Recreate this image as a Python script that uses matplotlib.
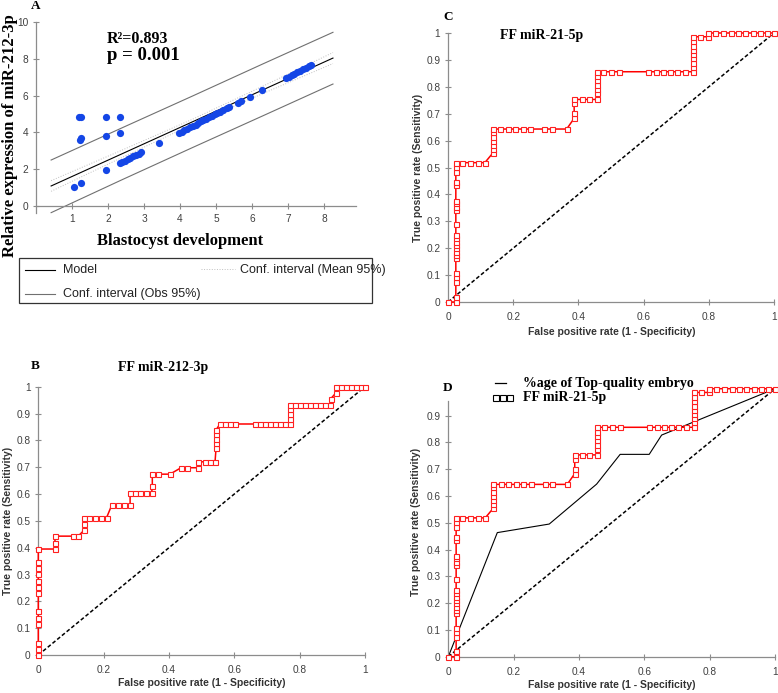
import numpy as np
import matplotlib
matplotlib.use("Agg")
import matplotlib.pyplot as plt
from matplotlib.lines import Line2D
from matplotlib.patches import Rectangle

plt.rcParams['font.family'] = ['Liberation Sans', 'DejaVu Sans']

# ---- data ----
# A: blastocyst development vs relative expression of miR-212-3p
blast_x = [1.2, 1.25, 1.22, 1.25, 1.95, 1.95, 2.32, 2.32, 1.95, 1.05, 1.25,
           2.33, 2.4, 2.47, 2.55, 2.62, 2.7, 2.78, 2.85, 2.93, 3.42,
           3.97, 4.05, 4.12, 4.2, 4.28, 4.35, 4.44,
           4.5, 4.58, 4.65, 4.72, 4.8, 4.88, 4.96, 5.03,
           5.1, 5.2, 5.3, 5.36, 5.6, 5.7, 5.94, 6.28,
           6.95, 7.03, 7.1, 7.18, 7.26, 7.34, 7.42, 7.5, 7.58, 7.64]
expr_y = [4.83, 4.84, 3.6, 3.68, 4.84, 3.78, 4.86, 3.97, 1.96, 1.03, 1.25,
          2.35, 2.4, 2.47, 2.55, 2.6, 2.7, 2.78, 2.85, 2.93, 3.44,
          3.98, 4.05, 4.12, 4.2, 4.27, 4.35, 4.42,
          4.52, 4.6, 4.67, 4.74, 4.82, 4.9, 4.98, 5.05,
          5.1, 5.2, 5.3, 5.38, 5.6, 5.72, 5.93, 6.3,
          6.95, 7.03, 7.1, 7.18, 7.26, 7.34, 7.42, 7.5, 7.6, 7.66]
fit_x = [0.42, 2.38, 4.34, 6.3, 8.25]
model_y = [1.09, 2.83, 4.57, 6.31, 8.04]
mean_lo = [0.80, 2.63, 4.43, 6.11, 7.74]
mean_hi = [1.38, 3.03, 4.71, 6.51, 8.34]
obs_lo = [-0.36, 1.42, 3.17, 4.90, 6.63]
obs_hi = [2.50, 4.24, 5.97, 7.72, 9.44]

# B: FF miR-212-3p ROC
fpr212 = [0, 0, 0, 0, 0, 0, 0, 0, 0, 0, 0, 0, 0,
          0.051, 0.051, 0.051, 0.105, 0.122,
          0.14, 0.14, 0.14, 0.156, 0.173, 0.192, 0.209,
          0.225, 0.245, 0.262, 0.281,
          0.281, 0.296, 0.311, 0.329, 0.347,
          0.349, 0.349, 0.367, 0.403,
          0.437, 0.454, 0.49, 0.49, 0.51, 0.526, 0.541,
          0.544, 0.544, 0.544, 0.544, 0.544,
          0.556, 0.571, 0.587, 0.602, 0.663, 0.679, 0.694, 0.709, 0.724, 0.74, 0.755, 0.771,
          0.771, 0.771, 0.771, 0.771, 0.785, 0.8, 0.816, 0.831, 0.847, 0.862, 0.877, 0.893,
          0.895, 0.911, 0.911, 0.926, 0.941, 0.957, 0.972, 0.987, 1.0]
tpr212 = [0, 0.021, 0.046, 0.116, 0.137, 0.164, 0.232, 0.254, 0.277, 0.301, 0.323, 0.348, 0.395,
          0.395, 0.418, 0.443, 0.443, 0.443,
          0.465, 0.488, 0.512, 0.512, 0.512, 0.512, 0.512,
          0.559, 0.559, 0.559, 0.559,
          0.605, 0.605, 0.605, 0.605, 0.605,
          0.63, 0.674, 0.674, 0.674,
          0.698, 0.698, 0.698, 0.72, 0.72, 0.72, 0.72,
          0.77, 0.789, 0.805, 0.823, 0.839,
          0.861, 0.861, 0.861, 0.861, 0.861, 0.861, 0.861, 0.861, 0.861, 0.861, 0.861, 0.861,
          0.88, 0.898, 0.917, 0.932, 0.932, 0.932, 0.932, 0.932, 0.932, 0.932, 0.932, 0.932,
          0.955, 0.977, 1.0, 1.0, 1.0, 1.0, 1.0, 1.0, 1.0]

# C / D: FF miR-21-5p ROC
fpr21 = [0, 0.024, 0.024, 0.024, 0.024, 0.024, 0.024, 0.024, 0.024, 0.024, 0.024, 0.024,
         0.024, 0.024, 0.024, 0.024, 0.024, 0.024, 0.024, 0.024, 0.024, 0.024, 0.024, 0.024,
         0.042, 0.067, 0.091, 0.113,
         0.137, 0.137, 0.137, 0.137, 0.137, 0.137, 0.137,
         0.160, 0.183, 0.206, 0.229, 0.252, 0.295, 0.318, 0.364,
         0.387, 0.387, 0.387, 0.387, 0.41, 0.432, 0.456,
         0.456, 0.456, 0.456, 0.456, 0.456, 0.456,
         0.476, 0.5, 0.525, 0.614, 0.638, 0.659, 0.681, 0.703, 0.727, 0.753,
         0.753, 0.753, 0.753, 0.753, 0.753, 0.753, 0.753, 0.753,
         0.773, 0.797, 0.797,
         0.819, 0.845, 0.867, 0.891, 0.911, 0.935, 0.957, 0.979, 1.0]
tpr21 = [0, 0, 0.02, 0.075, 0.092, 0.107, 0.162, 0.175, 0.187, 0.2, 0.212, 0.224,
         0.237, 0.249, 0.289, 0.342, 0.354, 0.367, 0.377, 0.435, 0.447, 0.484, 0.503, 0.518,
         0.518, 0.518, 0.518, 0.518,
         0.553, 0.569, 0.584, 0.599, 0.615, 0.633, 0.643,
         0.643, 0.643, 0.643, 0.643, 0.643, 0.643, 0.643, 0.643,
         0.683, 0.701, 0.739, 0.753, 0.753, 0.753, 0.753,
         0.776, 0.791, 0.807, 0.825, 0.840, 0.856,
         0.856, 0.856, 0.856, 0.856, 0.856, 0.856, 0.856, 0.856, 0.856, 0.856,
         0.875, 0.89, 0.906, 0.921, 0.937, 0.953, 0.97, 0.986,
         0.986, 0.986, 1.0,
         1.0, 1.0, 1.0, 1.0, 1.0, 1.0, 1.0, 1.0, 1.0]

# D: %age of top-quality embryo ROC
fpr_top = [0, 0.15, 0.309, 0.454, 0.526, 0.615, 0.653, 1.0]
tpr_top = [0, 0.463, 0.495, 0.644, 0.755, 0.755, 0.827, 1.0]

# ---- layout helpers (pixels of the 778x693 image) ----
W, H = 778, 693
fig = plt.figure(figsize=(W / 100, H / 100), dpi=100)


def px(x, y):
    return x / W, 1 - y / H


def box(x0, y0, x1, y1):
    # axes rectangle from pixel corners (left, top, right, bottom)
    return [x0 / W, 1 - y1 / H, (x1 - x0) / W, (y1 - y0) / H]


SERIF = 'Liberation Serif'
AXC = '#8c8c8c'
TXT = '#404040'


def style_axes(ax):
    for s in ['top', 'right']:
        ax.spines[s].set_visible(False)
    for s in ['left', 'bottom']:
        ax.spines[s].set_color(AXC)
        ax.spines[s].set_linewidth(0.9)
    ax.tick_params(direction='inout', length=5, width=0.8, color=AXC,
                   labelsize=7.3, labelcolor=TXT, pad=3)


def style_roc(ax, ymax_tick=1.0):
    style_axes(ax)
    ax.set_xlim(0, 1)
    ax.set_ylim(0, 1)
    xt = [0, 0.2, 0.4, 0.6, 0.8, 1]
    ax.set_xticks(xt)
    ax.set_xticklabels(['0', '0.2', '0.4', '0.6', '0.8', '1'])
    yt = [v / 10 for v in range(0, int(round(ymax_tick * 10)) + 1)]
    ax.set_yticks(yt)
    ax.set_yticklabels(['0' if v == 0 else ('1' if v == 1 else f'{v:.1f}') for v in yt])
    ax.tick_params(axis='x', pad=5)
    ax.plot([0, 1], [0, 1], color='black', lw=1.1, ls=(0, (2.5, 1.5)), zorder=2)


def roc_line(ax, fpr, tpr):
    ax.plot(fpr, tpr, color='#ff0000', lw=1.1, marker='s', markersize=3.6,
            markerfacecolor='white', markeredgecolor='#ff2020', markeredgewidth=0.8,
            clip_on=False, zorder=3)


# ---- Panel A ----
axA = fig.add_axes(box(36, 22, 356, 213.4))
style_axes(axA)
axA.spines['bottom'].set_position(('data', 0))
axA.set_xlim(0, 8.89)
axA.set_ylim(-0.4, 10)
axA.set_xticks([1, 2, 3, 4, 5, 6, 7, 8])
axA.set_yticks([0, 2, 4, 6, 8, 10])
axA.plot(fit_x, obs_hi, color='#707070', lw=0.8, clip_on=False)
axA.plot(fit_x, obs_lo, color='#707070', lw=0.8, clip_on=False)
axA.plot(fit_x, mean_hi, color='#c0c0c0', lw=0.7, ls=':', clip_on=False)
axA.plot(fit_x, mean_lo, color='#c0c0c0', lw=0.7, ls=':', clip_on=False)
axA.plot(fit_x, model_y, color='black', lw=0.8, clip_on=False)
axA.scatter(blast_x, expr_y, s=27, color='#1446e6', zorder=4, linewidths=0)

fig.text(*px(107, 39), 'R²=0.893', fontfamily=SERIF, fontweight='bold',
         fontsize=11.5, va='center', ha='left')
fig.text(*px(107, 55), 'p = 0.001', fontfamily=SERIF, fontweight='bold',
         fontsize=13.5, va='center', ha='left')
fig.text(*px(10, 136), 'Relative expression of miR-212-3p', fontfamily=SERIF,
         fontweight='bold', fontsize=12, rotation=90, va='center', ha='center')
fig.text(*px(180, 241), 'Blastocyst development', fontfamily=SERIF,
         fontweight='bold', fontsize=12, va='center', ha='center')

# legend box of panel A
fig.add_artist(Rectangle(px(19, 303), 353 / W, 45 / H, transform=fig.transFigure,
                         fill=False, edgecolor='#333333', lw=0.9))
fig.add_artist(Line2D([25 / W, 55 / W], [px(0, 270)[1]] * 2, color='black', lw=0.8))
fig.add_artist(Line2D([201 / W, 235 / W], [px(0, 269.5)[1]] * 2, color='#c0c0c0',
                      lw=0.7, ls=':'))
fig.add_artist(Line2D([25 / W, 55 / W], [px(0, 294)[1]] * 2, color='#707070', lw=0.8))
fig.text(*px(63, 270), 'Model', fontsize=9, va='center', color='#222222')
fig.text(*px(240, 270), 'Conf. interval (Mean 95%)', fontsize=9, va='center', color='#222222')
fig.text(*px(63, 294), 'Conf. interval (Obs 95%)', fontsize=9, va='center', color='#222222')

# ---- Panel C ----
axC = fig.add_axes(box(448, 33, 774, 302))
style_roc(axC)
roc_line(axC, fpr21, tpr21)

# ---- Panel B ----
axB = fig.add_axes(box(38.3, 386.7, 365, 655))
style_roc(axB)
roc_line(axB, fpr212, tpr212)

# ---- Panel D ----
axD = fig.add_axes(box(448.3, 388.7, 775, 656.7))
style_roc(axD, ymax_tick=0.9)
axD.spines['left'].set_bounds(0, 0.955)
axD.plot(fpr_top, tpr_top, color='black', lw=0.8, zorder=2.5)
roc_line(axD, fpr21, tpr21)

# legend of panel D
fig.add_artist(Line2D([495 / W, 506 / W], [px(0, 383)[1]] * 2, color='black', lw=0.9))
fig.add_artist(Line2D([496 / W, 503 / W, 510 / W], [px(0, 398)[1]] * 3, color='black',
                      lw=0, marker='s', markersize=4.6, markerfacecolor='white',
                      markeredgecolor='black', markeredgewidth=0.8))
fig.text(*px(523, 383), '%age of Top-quality embryo', fontfamily=SERIF,
         fontweight='bold', fontsize=10, va='center', ha='left')
fig.text(*px(523, 398), 'FF miR-21-5p', fontfamily=SERIF,
         fontweight='bold', fontsize=10, va='center', ha='left')

# axis labels of ROC panels
for (xc, yc) in [(612, 332), (202, 683), (612, 685)]:
    fig.text(*px(xc, yc), 'False positive rate (1 - Specificity)', fontsize=7.5,
             fontweight='bold', color='#333333', va='center', ha='center')
for (xc, yc) in [(418, 167.5), (8, 521), (416, 522)]:
    fig.text(*px(xc, yc), 'True positive rate (Sensitivity)', fontsize=7.5,
             fontweight='bold', color='#333333', va='center', ha='center', rotation=90)

# titles and panel letters
fig.text(*px(542, 36), 'FF miR-21-5p', fontfamily=SERIF, fontweight='bold',
         fontsize=10, va='center', ha='center')
fig.text(*px(163, 367), 'FF miR-212-3p', fontfamily=SERIF, fontweight='bold',
         fontsize=10, va='center', ha='center')
for (xc, yc, lab) in [(35.5, 6, 'A'), (35.5, 366, 'B'), (448, 16.5, 'C'), (448, 388, 'D')]:
    fig.text(*px(xc, yc), lab, fontfamily=SERIF, fontweight='bold', fontsize=9.5,
             va='center', ha='center')

fig.savefig('out.png', dpi=100)
